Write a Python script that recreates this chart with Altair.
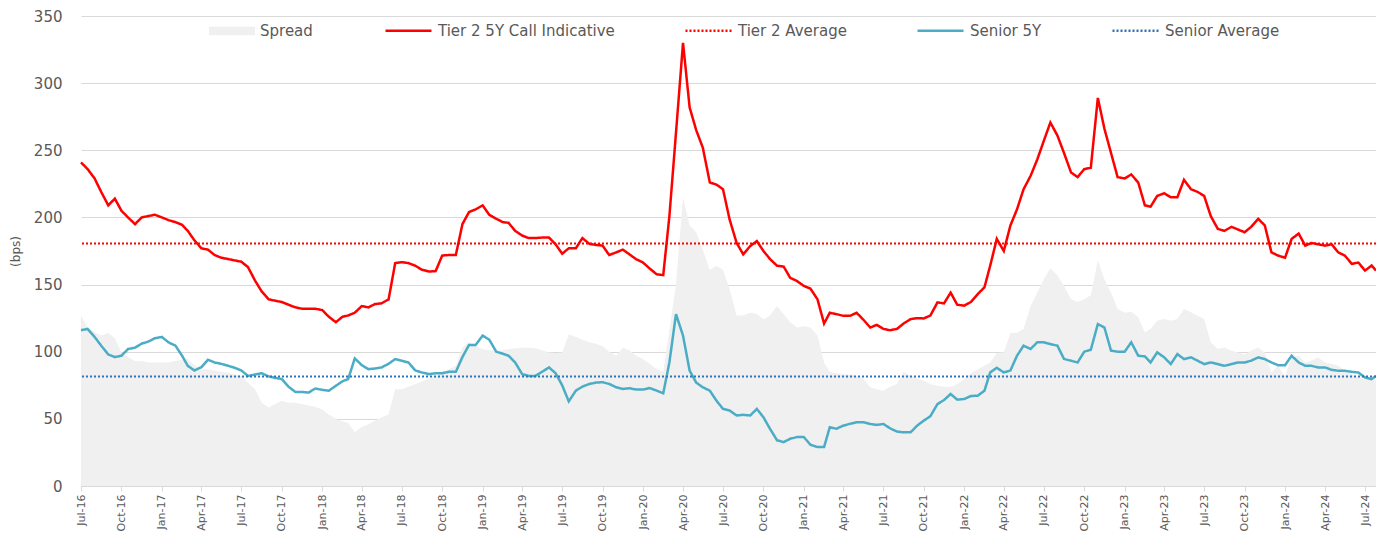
import altair as alt
import pandas as pd

# ---- data (semi-monthly samples, Jul-2016 .. Jul-2024) ----
tier2 = [
    241, 236, 229, 219, 209, 214, 205, 200, 195, 200,
    201, 202, 200, 198, 196.5, 194.5, 190, 183, 177, 176,
    172, 170, 169, 168, 167, 163, 153, 145, 139, 138,
    137, 135, 133, 132, 132, 132, 131, 126, 122, 126,
    127,
    129, 134, 133, 135.5, 136, 139, 166, 166.7, 166, 164,
    161, 159.7, 160, 171.6, 172, 172, 195, 204, 206, 209,
    202, 199, 196.5, 196, 190, 186.5, 184.6, 184.6, 185, 185,
    180, 173, 177, 177, 184.6, 180.3, 179.5, 179, 172,
    174, 176, 172.5, 169, 166.4, 162, 157.7, 157, 201, 263,
    330, 282, 265, 252, 226, 224.5, 221, 198.5, 181, 172.5,
    178.7, 182.4, 175, 169, 164, 163.4, 155, 152.7, 149, 147,
    139, 121, 129, 128, 126.7, 126.7, 129, 124,
    118, 120, 117, 116, 117, 121, 124.3, 125, 124.8, 127,
    136.7, 136, 144, 135, 134.3, 137, 143, 148, 164, 184,
    175, 194, 206, 221, 231, 243, 257, 270.7, 261, 248,
    233.5, 230, 236, 237, 289, 266, 248, 230, 229,
    232, 226, 209, 208, 216, 218, 215, 215, 228, 221,
    219, 216, 201, 191.5, 190, 193, 191, 189, 193, 199,
    194, 174, 171.6, 170, 184, 188, 179, 181, 180, 179,
    180, 174, 171.6, 165.4, 166.4, 160.4, 164.2, 160.4,
]

senior = [
    116, 117, 111, 104.5, 98, 96, 97, 102, 103, 106,
    107.5, 110, 111, 107, 104.5, 97, 89.5, 86, 88.5, 94,
    92, 91, 89.5, 88, 86, 82, 83, 84, 81.6, 80.5,
    79.6, 74, 70, 70, 69.6, 72.6, 71.6, 71, 74.6, 78,
    79.6,
    95, 90, 87, 87.5, 88.3, 91, 94.5, 93.3, 92, 86,
    84.5, 83.3, 84, 84, 85, 85, 96, 105, 105, 112,
    109, 100, 98.5, 97, 92, 83.3, 82, 82, 85, 88.3,
    84, 75, 63, 71, 74, 76, 77, 77.3, 76,
    73.5, 72.3, 72.8, 71.8, 71.8, 73, 71, 69, 92, 128,
    112, 86, 77, 73.5, 71, 63.6, 57.4, 56.2, 52.5, 53,
    52.5, 57.4, 51.2, 42.6, 34, 32.7, 35.2, 36.4, 36.4, 30.7,
    29, 29, 43.8, 42.6, 45, 46.3, 47.5, 47.5,
    46.2, 45.5, 46.2, 43, 40.5, 40, 40, 45, 48.7, 52,
    61, 64, 68.5, 64.3, 64.8, 67, 67.3, 71, 84.6, 88,
    84.6, 86, 97, 104.5, 102, 107, 107, 105.7, 104.5, 94.6,
    93.3, 92, 100, 101.5, 120.6, 118, 100.8, 100, 100,
    107, 97, 96.5, 92, 99.5, 95.8, 90.8, 98.2, 94.5, 95.8,
    93.3, 90.8, 92, 90.8, 89.5, 90.8, 92, 92, 93.3, 95.8,
    94.5, 92, 90, 90, 97, 92, 89.5, 89.5, 88.3, 88.3,
    86.5, 85.8, 85.8, 85, 84.5, 80.8, 79.6, 82,
]

spread = [
    127, 118, 114.5, 112, 114, 110, 99.5, 96, 93, 93,
    92, 92, 92, 92, 93, 94, 94.5, 90, 87, 87,
    86, 85, 84.5, 83, 82, 77, 72, 62, 58.5, 61,
    63.5, 62, 62, 61, 60, 59, 57, 53, 50, 48,
    47,
    40, 44, 46, 48.5, 51, 53.5, 72, 72, 74, 76,
    78, 80, 82, 84.5, 87, 89.5, 103, 107, 104, 102,
    101, 100.7, 101, 102, 102.5, 103, 103, 102.5, 101, 99.5,
    99, 99.5, 113, 111, 109, 107, 106, 104, 100,
    97, 103, 101, 97, 94.6, 91, 87, 85, 116, 150,
    215, 194, 189, 176, 161, 164, 161, 146.5, 127, 127,
    129, 128, 124, 127, 134, 128, 122, 118, 119, 118,
    112, 92, 85, 84, 83.4, 83, 82, 80,
    73.5, 72, 71, 74, 76, 85, 82, 80, 78.4, 76,
    74.7, 74, 73.5, 76, 79.7, 84, 87, 89.6, 92, 99,
    99.5, 114, 114, 117, 134, 144, 154, 162, 157, 149,
    139, 137, 139, 142, 168, 154, 144, 132, 129,
    130, 125.6, 114.4, 116.9, 123.1, 124.4, 123.1, 124.4, 131.8, 129.3,
    126.8, 124.4, 106.9, 102, 103.2, 100.7, 99.5, 98.2, 100.7, 103.2,
    99.5, 84.5, 89.5, 82, 95.8, 97, 92, 93.3, 95.8, 92,
    90.8, 89.5, 85.8, 83.3, 80.8, 79.6, 80, 79,
]

tier2_avg = 180.5
senior_avg = 81.5

series_names = ["Tier 2 5Y Call Indicative", "Tier 2 Average", "Senior 5Y", "Senior Average"]
series_colors = ["#ff0000", "#ff0000", "#4bacc6", "#2e75b6"]
series_dash = [[1, 0], [2, 2], [1, 0], [2, 2]]
area_name = "Spread"

# semi-monthly dates: 1st and 16th of each month from Jul-2016, last observation late Jul-2024
n = len(tier2)
dates = []
for i in range(n - 1):
    k = 6 + i // 2
    dates.append(f"{2016 + k // 12:04d}-{k % 12 + 1:02d}-{1 if i % 2 == 0 else 16:02d}T00:00:00")
dates.append("2024-07-26T00:00:00")

area_df = pd.DataFrame({"date": dates, "value": spread, "series": area_name})
lines_df = pd.concat([
    pd.DataFrame({"date": dates, "value": tier2, "series": series_names[0]}),
    pd.DataFrame({"date": dates, "value": senior, "series": series_names[2]}),
])
avg_df = pd.DataFrame({"series": [series_names[1], series_names[3]], "value": [tier2_avg, senior_avg]})

FONT = "DejaVu Sans"
GREY = "#595959"

tick_dates = []
for q in range(33):
    k = 6 + 3 * q
    tick_dates.append(alt.DateTime(year=2016 + k // 12, month=k % 12 + 1, date=1))

x_scale = alt.Scale(domain=[alt.DateTime(year=2016, month=7, date=1),
                            alt.DateTime(year=2024, month=7, date=26)])
y_scale = alt.Scale(domain=[0, 350], nice=False)

x_axis = alt.Axis(values=tick_dates, format="%b-%y", labelAngle=270, grid=False,
                  domainColor="#d9d9d9", tickColor="#d9d9d9", tickSize=5, labelPadding=3,
                  labelFont=FONT, labelFontSize=11, labelColor=GREY, title=None,
                  labelOverlap=False, labelFlush=False)
y_axis = alt.Axis(values=[0, 50, 100, 150, 200, 250, 300, 350], grid=True, gridColor="#d9d9d9",
                  domain=False, ticks=False, tickSize=0, labelPadding=19,
                  labelFont=FONT, labelFontSize=15, labelColor=GREY,
                  title="(bps)", titleFont=FONT, titleFontSize=12, titleFontWeight="normal",
                  titleColor=GREY, titlePadding=11)

x_enc = alt.X("date:T", scale=x_scale, axis=x_axis)
y_enc = alt.Y("value:Q", scale=y_scale, axis=y_axis)

line_legend = alt.Legend(orient="none", legendX=303, legendY=-10, direction="horizontal", title=None,
                         symbolType="stroke", symbolSize=2116, symbolStrokeWidth=2.5,
                         labelFont=FONT, labelFontSize=15, labelColor=GREY, labelOffset=5,
                         labelLimit=0, columnPadding=65, padding=0)
area_legend = alt.Legend(orient="none", legendX=128, legendY=-8, direction="horizontal", title=None,
                         symbolType="M-1,-0.18L1,-0.18L1,0.18L-1,0.18Z", symbolSize=2116,
                         symbolStrokeWidth=0, symbolOpacity=1,
                         labelFont=FONT, labelFontSize=15, labelColor=GREY, labelOffset=5,
                         labelLimit=0, padding=0)

color_enc = alt.Color("series:N", scale=alt.Scale(domain=series_names, range=series_colors), legend=line_legend)
dash_enc = alt.StrokeDash("series:N", scale=alt.Scale(domain=series_names, range=series_dash), legend=line_legend)

area = alt.Chart(area_df).mark_area(opacity=1).encode(
    x=x_enc, y=y_enc,
    fill=alt.Fill("series:N", scale=alt.Scale(domain=[area_name], range=["#f0f0f0"]), legend=area_legend),
)
lines = alt.Chart(lines_df).mark_line(strokeWidth=2.5).encode(
    x=x_enc, y=y_enc, color=color_enc, strokeDash=dash_enc,
)
rules = alt.Chart(avg_df).mark_rule(strokeWidth=2).encode(
    y=y_enc, color=color_enc, strokeDash=dash_enc,
)

chart = alt.layer(area, lines, rules).properties(
    width=1295, height=470,
    autosize=alt.AutoSizeParams(type="none"),
    padding={"left": 73, "top": 8, "right": 0, "bottom": 46},
).configure(font=FONT).configure_view(stroke=None)

chart.save("out.html", embed_options={"renderer": "svg", "actions": False})
